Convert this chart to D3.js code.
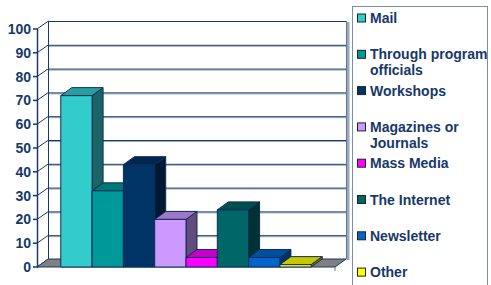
<!DOCTYPE html>
<html>
<head>
<meta charset="utf-8">
<script src="https://cdn.jsdelivr.net/npm/d3@7"></script>
<style>
	body { margin: 0; background: #fff; }
	svg text { font-family: "Liberation Sans", Arial, sans-serif; font-weight: bold; fill: #17386a; }
</style>
</head>
<body>
<svg id="chart" width="491" height="285"></svg>
<script>
	// data
	let categories = [ 'Mail', 'Through program officials', 'Workshops', 'Magazines or Journals',
		'Mass Media', 'The Internet', 'Newsletter', 'Other' ],
		values = [ 72, 32, 43, 20, 4, 24, 4, 1 ],
		colors = [ '#33cccc', '#009999', '#003366', '#cc99ff', '#ff00ff', '#006666', '#0066cc', '#ffff00' ],
		legendLines = [ [ 'Mail' ], [ 'Through program', 'officials' ], [ 'Workshops' ], [ 'Magazines or', 'Journals' ],
			[ 'Mass Media' ], [ 'The Internet' ], [ 'Newsletter' ], [ 'Other' ] ],
		yTicks = [ 0, 10, 20, 30, 40, 50, 60, 70, 80, 90, 100 ];

	let svg = d3.select( '#chart' ),
		navy = '#173a6a',
		DX = 11, DY = -8;

	let y = d3.scaleLinear().domain( [ 0, 100 ] ).range( [ 267, 29 ] ),
		x = d3.scaleBand().domain( categories ).range( [ 37, 335 ] ).paddingInner( 0 ).paddingOuter( 0.76 );

	let x0 = x.range()[ 0 ], x1 = x.range()[ 1 ];
	let poly = pts => pts.map( p => p.join( ',' ) ).join( ' ' );

	// back wall gridlines (with a soft shadow line under each)
	let grid = svg.append( 'g' ).attr( 'id', 'grid' );
	yTicks.slice( 1, -1 ).forEach( t => {
		grid.append( 'line' ).attr( 'x1', x0 + DX ).attr( 'x2', x1 + DX )
			.attr( 'y1', y( t ) + DY + 1.5 ).attr( 'y2', y( t ) + DY + 1.5 )
			.style( 'stroke', '#9aa8bd' ).style( 'stroke-width', 1 );
		grid.append( 'line' ).attr( 'x1', x0 + DX ).attr( 'x2', x1 + DX )
			.attr( 'y1', y( t ) + DY + 0.5 ).attr( 'y2', y( t ) + DY + 0.5 )
			.style( 'stroke', navy ).style( 'stroke-width', 1 );
	} );

	// side wall diagonals
	yTicks.forEach( t => {
		grid.append( 'line' ).attr( 'x1', x0 ).attr( 'y1', y( t ) )
			.attr( 'x2', x0 + DX + 0.5 ).attr( 'y2', y( t ) + DY )
			.style( 'stroke', navy ).style( 'stroke-width', 1 );
	} );

	// back wall frame
	grid.append( 'line' ).attr( 'x1', x0 + DX ).attr( 'x2', x1 + DX )
		.attr( 'y1', y( 100 ) + DY + 0.5 ).attr( 'y2', y( 100 ) + DY + 0.5 )
		.style( 'stroke', navy );
	grid.append( 'line' ).attr( 'x1', x0 + DX + 0.5 ).attr( 'x2', x0 + DX + 0.5 )
		.attr( 'y1', y( 100 ) + DY ).attr( 'y2', y( 0 ) + DY )
		.style( 'stroke', navy );
	grid.append( 'rect' ).attr( 'x', x1 + DX + 0.5 ).attr( 'y', y( 100 ) + DY + 1 )
		.attr( 'width', 3 ).attr( 'height', y( 0 ) - y( 100 ) )
		.style( 'fill', '#9aa8bd' );
	grid.append( 'line' ).attr( 'x1', x1 + DX + 0.5 ).attr( 'x2', x1 + DX + 0.5 )
		.attr( 'y1', y( 100 ) + DY ).attr( 'y2', y( 0 ) + DY )
		.style( 'stroke', '#5f7696' );

	// floor
	svg.append( 'polygon' )
		.attr( 'points', poly( [ [ x0, y( 0 ) ], [ x1, y( 0 ) ], [ x1 + DX, y( 0 ) + DY ], [ x0 + DX, y( 0 ) + DY ] ] ) )
		.style( 'fill', '#808080' ).style( 'stroke', navy ).style( 'stroke-width', 1 );
	svg.append( 'line' ).attr( 'x1', x1 ).attr( 'x2', x1 ).attr( 'y1', y( 0 ) ).attr( 'y2', y( 0 ) + 4 )
		.style( 'stroke', '#5f7696' );

	// bars
	let bars = svg.append( 'g' ).attr( 'id', 'bars' );
	categories.forEach( ( c, i ) => {
		let bx = x( c ), bw = x.bandwidth(), top = y( values[ i ] ), base = y( 0 ),
			col = d3.rgb( colors[ i ] );
		let g = bars.append( 'g' ).style( 'stroke', '#0f2c58' ).style( 'stroke-width', 1 ).style( 'stroke-linejoin', 'round' );
		g.append( 'polygon' )
			.attr( 'points', poly( [ [ bx + bw, top ], [ bx + bw + DX, top + DY ], [ bx + bw + DX, base + DY ], [ bx + bw, base ] ] ) )
			.style( 'fill', col.darker( 2 ) );
		g.append( 'polygon' )
			.attr( 'points', poly( [ [ bx, top ], [ bx + DX, top + DY ], [ bx + bw + DX, top + DY ], [ bx + bw, top ] ] ) )
			.style( 'fill', col.darker( 0.7 ) );
		g.append( 'rect' ).attr( 'x', bx ).attr( 'y', top ).attr( 'width', bw ).attr( 'height', base - top )
			.style( 'fill', col );
	} );

	// y axis
	let axis = svg.append( 'g' ).attr( 'id', 'yAxis' );
	axis.append( 'line' ).attr( 'x1', x0 + 0.5 ).attr( 'x2', x0 + 0.5 ).attr( 'y1', y( 100 ) ).attr( 'y2', y( 0 ) + 1 )
		.style( 'stroke', navy ).style( 'stroke-width', 1.5 );
	yTicks.forEach( t => {
		axis.append( 'line' ).attr( 'x1', x0 - 4 ).attr( 'x2', x0 ).attr( 'y1', y( t ) ).attr( 'y2', y( t ) )
			.style( 'stroke', navy ).style( 'stroke-width', 1.5 );
		axis.append( 'text' ).attr( 'x', 31 ).attr( 'y', y( t ) + 5 )
			.attr( 'text-anchor', 'end' ).style( 'font-size', '14px' ).text( t );
	} );

	// legend
	let legend = svg.append( 'g' ).attr( 'id', 'legend' );
	legend.append( 'rect' ).attr( 'x', 352.5 ).attr( 'y', 6.5 ).attr( 'width', 135 ).attr( 'height', 290 )
		.style( 'fill', 'none' ).style( 'stroke', '#7d8ea8' );
	legendLines.forEach( ( lines, i ) => {
		let cy = 18 + i * 36.3;
		legend.append( 'rect' ).attr( 'x', 357.5 ).attr( 'y', cy - 4 ).attr( 'width', 8 ).attr( 'height', 8 )
			.style( 'fill', colors[ i ] ).style( 'stroke', '#222' ).style( 'stroke-width', 1 );
		lines.forEach( ( l, j ) => {
			legend.append( 'text' ).attr( 'x', 370 ).attr( 'y', cy + 5 + j * 16 )
				.style( 'font-size', '14px' ).text( l );
		} );
	} );
</script>
</body>
</html>
